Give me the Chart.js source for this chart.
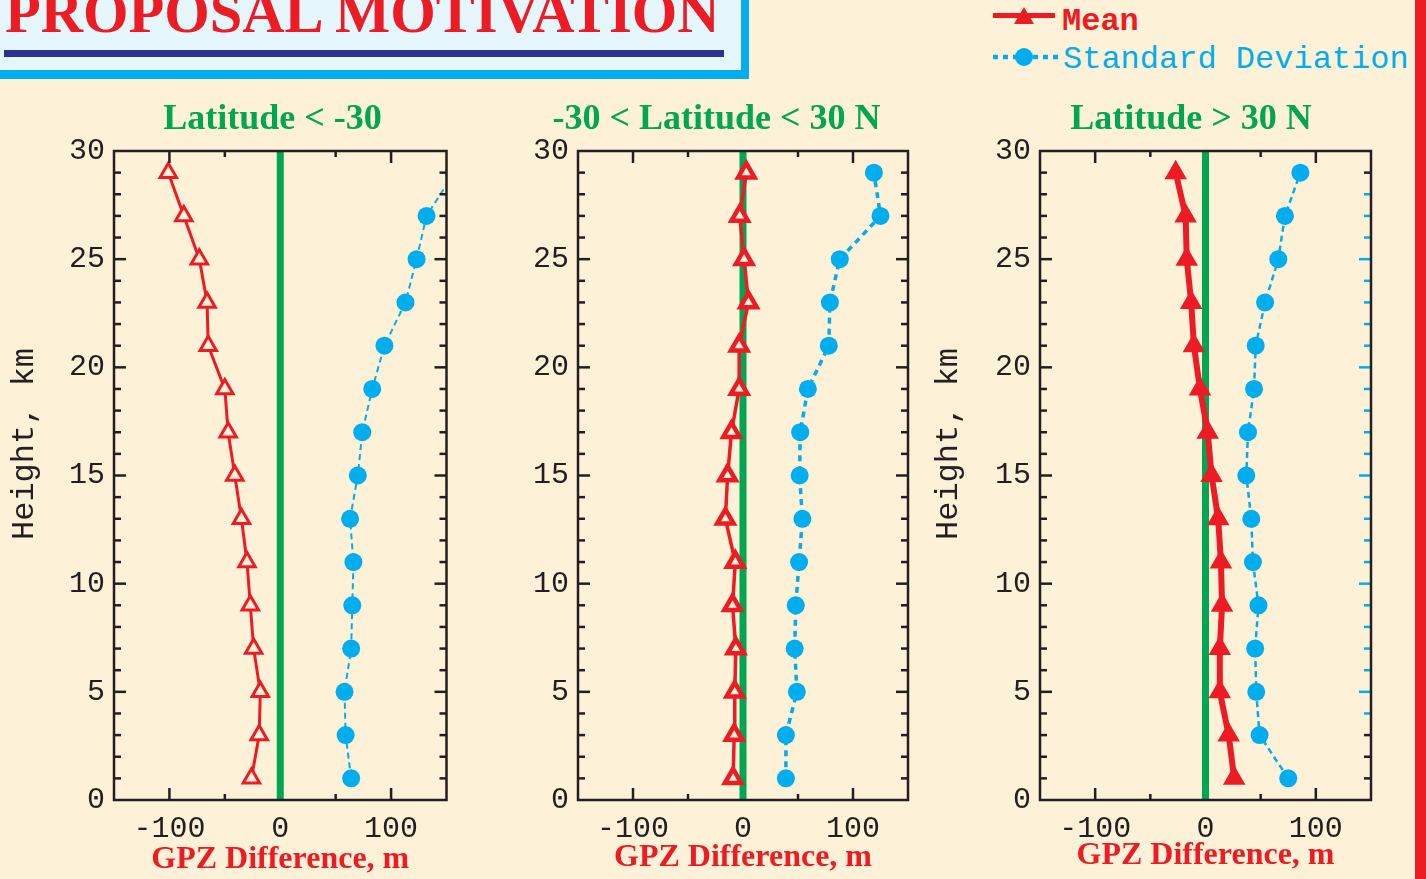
<!DOCTYPE html>
<html>
<head>
<meta charset="utf-8">
<title>Proposal Motivation - GPZ Difference</title>
<script src="https://cdn.jsdelivr.net/npm/chart.js@4.4.1/dist/chart.umd.min.js"></script>
<style>
  html, body { margin: 0; padding: 0; }
  body {
    width: 1426px; height: 879px; overflow: hidden; position: relative;
    background: #fdf2d7;
  }
  .abs { position: absolute; }
  #header {
    left: 0; top: 0; width: 741px; height: 70px;
    background: #e6f6fd;
    border-right: 8px solid #00aeef; border-bottom: 9px solid #00aeef;
    box-shadow: inset -1px -1px 0 #ffffff;
  }
  #headline {
    left: 5px; top: -16px; white-space: nowrap;
    font: bold 58.5px/58.5px "Liberation Serif", "Times New Roman", serif;
    color: #ed1c24;
  }
  #rule { left: 4px; top: 50px; width: 720px; height: 7px; background: #2e3192; }
  #redbar { left: 1415px; top: 0; width: 11px; height: 879px; background: #ed1c24; }
  .legend-text {
    white-space: nowrap;
    font: 32px/32px "Liberation Mono", "Courier New", monospace;
  }
  .ytitle {
    white-space: nowrap; color: #231f20;
    font: 32px/32px "Liberation Mono", "Courier New", monospace;
    transform: translate(-50%, -50%) rotate(-90deg);
  }
</style>
</head>
<body>
<div id="header" class="abs"></div>
<div id="headline" class="abs">PROPOSAL MOTIVATION</div>
<div id="rule" class="abs"></div>
<div id="redbar" class="abs"></div>

<canvas id="south" class="abs" width="459" height="787" style="left:0;top:92px"></canvas>
<canvas id="tropics" class="abs" width="422" height="787" style="left:500px;top:92px"></canvas>
<canvas id="north" class="abs" width="424" height="787" style="left:960px;top:92px"></canvas>

<div class="ytitle abs" style="left:25px;top:444px">Height, km</div>
<div class="ytitle abs" style="left:949px;top:444px">Height, km</div>

<!-- legend -->
<svg class="abs" style="left:990px;top:0" width="70" height="32">
  <line x1="3" y1="15.5" x2="65" y2="15.5" stroke="#ed1c24" stroke-width="5"/>
  <polygon points="34,7 24,24 44,24" fill="#ed1c24"/>
</svg>
<div class="legend-text abs" style="left:1062px;top:5.5px;color:#ed1c24;font-weight:bold">Mean</div>
<svg class="abs" style="left:990px;top:45px" width="70" height="24">
  <line x1="3" y1="12" x2="68" y2="12" stroke="#00aeef" stroke-width="4.5" stroke-dasharray="5 5"/>
  <circle cx="34" cy="12" r="9" fill="#00aeef"/>
</svg>
<div class="legend-text abs" style="left:1063px;top:43.5px;color:#00aeef">Standard Deviation</div>

<script>
// heights (km) where the profiles were sampled
const HEIGHTS = [1, 3, 5, 7, 9, 11, 13, 15, 17, 19, 21, 23, 25, 27, 29];

// GPZ difference (m), Latitude < -30
const MEAN_SOUTH = [-26, -19, -18, -24, -27, -30, -35, -41, -47, -50, -65, -66, -73, -87, -101];
const SD_SOUTH = [64, 59, 58, 64, 65, 66, 63, 70, 74, 83, 94, 113, 123, 132, 157];

// -30 < Latitude < 30 N
const MEAN_TROPICS = [-9, -8, -7.5, -6.5, -9.5, -7, -16, -14, -10.5, -3.5, -3.5, 5, 1, -3, 3];
const SD_TROPICS = [39, 39, 49, 47, 48, 51, 54, 51.5, 52, 59, 78, 79, 88, 125, 119];

// Latitude > 30 N
const MEAN_NORTH = [26, 21, 13, 13, 15, 14, 11.5, 5.5, 2, -5, -10.5, -13, -17, -18, -27];
const SD_NORTH = [75, 49, 46, 45, 48, 43, 41.5, 37, 38.5, 44, 45.5, 54, 66, 72, 86];

// axes
const X_TICK_LABELS = [-100, 0, 100];
const Y_TICK_LABELS = [0, 5, 10, 15, 20, 25, 30];
const X_MIN = -150, X_MAX = 150;
const ZERO = 0;

const RED = '#ed1c24';
const CYAN = '#00aeef';
const GREEN = '#00a651';
const INK = '#231f20';
const BG = '#fdf2d7';
const SERIF = '"Liberation Serif", "Times New Roman", serif';
const MONO = '"Liberation Mono", "Courier New", monospace';

// frame around the plot with inward tick marks on all four sides
const frameTicks = {
  id: 'frameTicks',
  afterDatasetsDraw(chart, args, opts) {
    const { ctx, chartArea: a, scales: { x, y } } = chart;
    const seg = (x1, y1, x2, y2, color) => {
      ctx.strokeStyle = color;
      ctx.beginPath();
      ctx.moveTo(x1, y1);
      ctx.lineTo(x2, y2);
      ctx.stroke();
    };
    ctx.save();
    ctx.lineWidth = 2.5;
    x.ticks.forEach(t => {
      if (t.value === ZERO || t.value === x.min || t.value === x.max) return;
      const px = x.getPixelForValue(t.value);
      const len = X_TICK_LABELS.includes(t.value) ? 12 : 6;
      seg(px, a.top, px, a.top + len, INK);
      seg(px, a.bottom, px, a.bottom - len, INK);
    });
    y.ticks.forEach(t => {
      if (t.value === y.min || t.value === y.max) return;
      const py = y.getPixelForValue(t.value);
      const len = Y_TICK_LABELS.includes(t.value) ? 12 : 7;
      const blue = opts.blueFrom != null && t.value >= opts.blueFrom && t.value <= opts.blueTo;
      seg(a.left, py, a.left + len, py, INK);
      seg(a.right, py, a.right - len, py, blue ? CYAN : INK);
    });
    ctx.strokeStyle = INK;
    ctx.strokeRect(a.left, a.top, a.right - a.left, a.bottom - a.top);
    ctx.restore();
  }
};

function makePanel(id, p) {
  const toPoints = vals => HEIGHTS.map((h, i) => ({ x: vals[i], y: h }));
  const yMin = Y_TICK_LABELS[0];
  const yMax = Y_TICK_LABELS[Y_TICK_LABELS.length - 1];

  return new Chart(document.getElementById(id), {
    type: 'line',
    data: {
      datasets: [
        {
          label: 'Mean',
          data: toPoints(p.mean),
          borderColor: RED,
          backgroundColor: RED,
          borderWidth: p.meanWidth,
          pointStyle: 'triangle',
          pointRadius: p.triRadius,
          pointBorderWidth: p.triBorder,
          pointBorderColor: RED,
          pointBackgroundColor: p.triFill,
          order: 1,
        },
        {
          label: 'Standard Deviation',
          data: toPoints(p.sd),
          borderColor: CYAN,
          backgroundColor: CYAN,
          borderWidth: p.sdWidth,
          borderDash: p.sdDash,
          pointStyle: 'circle',
          pointRadius: 9,
          pointBorderWidth: 0,
          pointBackgroundColor: CYAN,
          order: 2,
        },
        {
          label: 'zero',
          data: [{ x: ZERO, y: yMin }, { x: ZERO, y: yMax }],
          borderColor: GREEN,
          borderWidth: 7,
          pointRadius: 0,
          order: 3,
        },
      ],
    },
    options: {
      responsive: false,
      animation: false,
      devicePixelRatio: 1,
      elements: { line: { tension: 0 } },
      // negative right padding widens the title box so the title sits off-centre like the original
      layout: { padding: { left: 0, right: p.padRight, top: 0, bottom: 0 } },
      plugins: {
        legend: { display: false },
        tooltip: { enabled: false },
        title: {
          display: true,
          text: p.title,
          color: GREEN,
          font: { family: SERIF, size: 36, weight: 'bold', lineHeight: 1.2 },
          padding: { top: 6, bottom: 9.8 },
        },
        frameTicks: { blueFrom: p.blueFrom, blueTo: p.blueTo },
      },
      scales: {
        x: {
          type: 'linear',
          min: X_MIN,
          max: X_MAX,
          grid: { display: false, drawTicks: false },
          border: { display: false },
          ticks: {
            stepSize: 50,
            autoSkip: false,
            maxRotation: 0,
            padding: 11,
            color: INK,
            font: { family: MONO, size: 30 },
            callback: v => (X_TICK_LABELS.includes(v) ? String(v) : ''),
          },
          title: {
            display: true,
            text: 'GPZ Difference, m',
            color: RED,
            font: { family: SERIF, size: 32, weight: 'bold', lineHeight: 1.2 },
            padding: { top: 0, bottom: p.xTitlePad },
          },
          afterFit: s => { s.height = 79; },
        },
        y: {
          type: 'linear',
          min: yMin,
          max: yMax,
          grid: { display: false, drawTicks: false },
          border: { display: false },
          ticks: {
            stepSize: 1,
            maxTicksLimit: 100,
            autoSkip: false,
            padding: 9,
            color: INK,
            font: { family: MONO, size: 30 },
            callback: v => (Y_TICK_LABELS.includes(v) ? String(v) : ''),
          },
          afterFit: s => { s.width = p.yAxisWidth; },
        },
      },
    },
    plugins: [frameTicks],
  });
}

makePanel('south', {
  title: 'Latitude < -30',
  mean: MEAN_SOUTH, sd: SD_SOUTH,
  meanWidth: 3, triRadius: 9.5, triBorder: 3, triFill: BG,
  sdWidth: 2, sdDash: [6, 4],
  yAxisWidth: 114, padRight: -86, xTitlePad: 0,
});

makePanel('tropics', {
  title: '-30 < Latitude < 30 N',
  mean: MEAN_TROPICS, sd: SD_TROPICS,
  meanWidth: 3.5, triRadius: 9.5, triBorder: 4.5, triFill: BG,
  sdWidth: 3.5, sdDash: [6, 5],
  yAxisWidth: 78, padRight: -11, xTitlePad: 2,
});

makePanel('north', {
  title: 'Latitude > 30 N',
  mean: MEAN_NORTH, sd: SD_NORTH,
  meanWidth: 6, triRadius: 11, triBorder: 2, triFill: RED,
  sdWidth: 2.5, sdDash: [6, 4],
  yAxisWidth: 80, padRight: -38, xTitlePad: 4.5,
  blueFrom: 4, blueTo: 28,
});
</script>
</body>
</html>
